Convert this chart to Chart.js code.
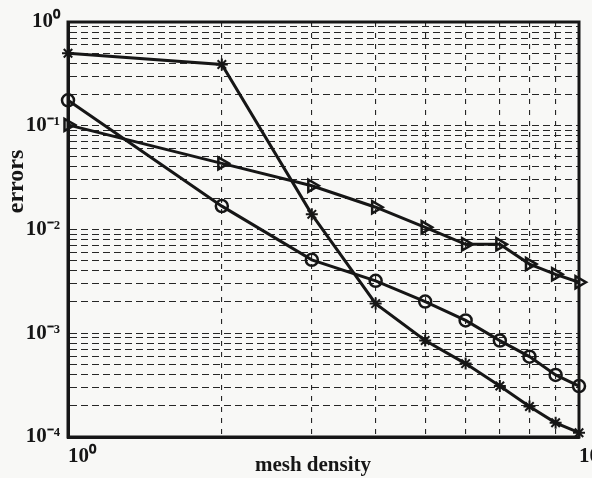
<!DOCTYPE html>
<html>
<head>
<meta charset="utf-8">
<script src="https://cdn.jsdelivr.net/npm/chart.js@4/dist/chart.umd.min.js"></script>
<style>
  html, body { margin: 0; padding: 0; background: #f8f8f6; }
  #wrap { width: 592px; height: 478px; }
</style>
</head>
<body>
<div id="wrap"><canvas id="c" width="592" height="478"></canvas></div>
<script>
// ---- data ----
const meshDensity = [1, 2, 3, 4, 5, 6, 7, 8, 9, 10];
const errStar     = [0.50, 0.39, 0.0140, 0.00193, 0.00085, 0.00051, 0.00031, 0.000197, 0.000137, 0.000110];
const errCircle   = [0.176, 0.0168, 0.0051, 0.0032, 0.00202, 0.00133, 0.00085, 0.000595, 0.000397, 0.00031];
const errTriangle = [0.102, 0.0434, 0.0264, 0.0164, 0.0105, 0.0072, 0.0072, 0.00464, 0.0037, 0.0031];

const xTickValues = [1, 2, 3, 4, 5, 6, 7, 8, 9, 10];
const yDecadeExponents = [-4, -3, -2, -1, 0];
const minorMultipliers = [1, 2, 3, 4, 5, 6, 7, 8, 9];

// ---- helpers ----
const SUP = {'-': '\u207B', '0': '\u2070', '1': '\u00B9', '2': '\u00B2', '3': '\u00B3', '4': '\u2074'};
function powLabel(value) {
  const e = Math.log10(value);
  const r = Math.round(e);
  if (Math.abs(e - r) < 1e-9) {
    return '10' + String(r).split('').map(c => SUP[c]).join('');
  }
  return '';
}
const yTickValues = [];
yDecadeExponents.forEach((e, i) => {
  if (i < yDecadeExponents.length - 1) {
    minorMultipliers.forEach(m => yTickValues.push(+(m * Math.pow(10, e)).toPrecision(6)));
  } else {
    yTickValues.push(Math.pow(10, e));
  }
});

const INK = '#161616';
const bgPlugin = {
  id: 'bg',
  beforeDraw(chart) {
    const ctx = chart.ctx;
    ctx.save();
    ctx.fillStyle = '#f8f8f6';
    ctx.fillRect(0, 0, chart.width, chart.height);
    ctx.restore();
  }
};
const framePlugin = {
  id: 'frame',
  beforeDatasetsDraw(chart) {
    const a = chart.chartArea;
    const ctx = chart.ctx;
    ctx.save();
    ctx.strokeStyle = INK;
    ctx.lineWidth = 3;
    ctx.strokeRect(a.left, a.top, a.right - a.left, a.bottom - a.top);
    ctx.restore();
  }
};

const lineCommon = {
  borderColor: INK,
  borderWidth: 3,
  pointBorderColor: INK,
  pointBackgroundColor: 'rgba(0,0,0,0)',
  pointBorderWidth: 2.5,
  fill: false,
  tension: 0,
  clip: false
};

new Chart(document.getElementById('c'), {
  type: 'line',
  data: {
    datasets: [
      Object.assign({}, lineCommon, {
        label: 'star',
        data: meshDensity.map((x, i) => ({x, y: errStar[i]})),
        pointStyle: 'star', pointRadius: 6, pointBorderWidth: 2
      }),
      Object.assign({}, lineCommon, {
        label: 'circle',
        data: meshDensity.map((x, i) => ({x, y: errCircle[i]})),
        pointStyle: 'circle', pointRadius: 6
      }),
      Object.assign({}, lineCommon, {
        label: 'triangle',
        data: meshDensity.map((x, i) => ({x, y: errTriangle[i]})),
        pointStyle: 'triangle', pointRotation: 90, pointRadius: 7
      })
    ]
  },
  options: {
    responsive: false,
    animation: false,
    events: [],
    layout: { padding: { top: 22, right: 13, bottom: 0, left: 0 } },
    plugins: { legend: { display: false }, tooltip: { enabled: false } },
    scales: {
      x: {
        type: 'logarithmic',
        min: 1, max: 10,
        afterBuildTicks(scale) { scale.ticks = xTickValues.map(v => ({value: v})); },
        afterFit(scale) { scale.height = 41; scale.paddingLeft = 0; scale.paddingRight = 0; },
        grid: { color: '#262626', lineWidth: 1.1, drawTicks: false },
        border: { display: true, color: INK, width: 3, dash: [5, 6] },
        ticks: {
          autoSkip: false, maxRotation: 0, minRotation: 0, align: 'start', padding: 7,
          color: INK,
          font: { family: 'Liberation Serif', size: 21, weight: 'bold' },
          callback: (v) => powLabel(v)
        },
        title: {
          display: true, text: 'mesh density    ', color: INK,
          font: { family: 'Liberation Serif', size: 21, weight: 'bold' },
          padding: { top: 0, bottom: 0 }
        }
      },
      y: {
        type: 'logarithmic',
        min: 1e-4, max: 1,
        afterBuildTicks(scale) { scale.ticks = yTickValues.map(v => ({value: v})); },
        afterFit(scale) { scale.width = 68; scale.paddingTop = 0; scale.paddingBottom = 0; },
        grid: { color: '#262626', lineWidth: 1.1, drawTicks: false },
        border: { display: true, color: INK, width: 3, dash: [7, 4] },
        ticks: {
          autoSkip: false, padding: 8,
          color: INK,
          font: { family: 'Liberation Serif', size: 21, weight: 'bold' },
          callback: (v) => powLabel(v)
        },
        title: {
          display: true, text: '                errors', color: INK,
          font: { family: 'Liberation Serif', size: 24, weight: 'bold' },
          padding: { top: 2, bottom: 0 }
        }
      }
    }
  },
  plugins: [bgPlugin, framePlugin]
});
</script>
</body>
</html>
